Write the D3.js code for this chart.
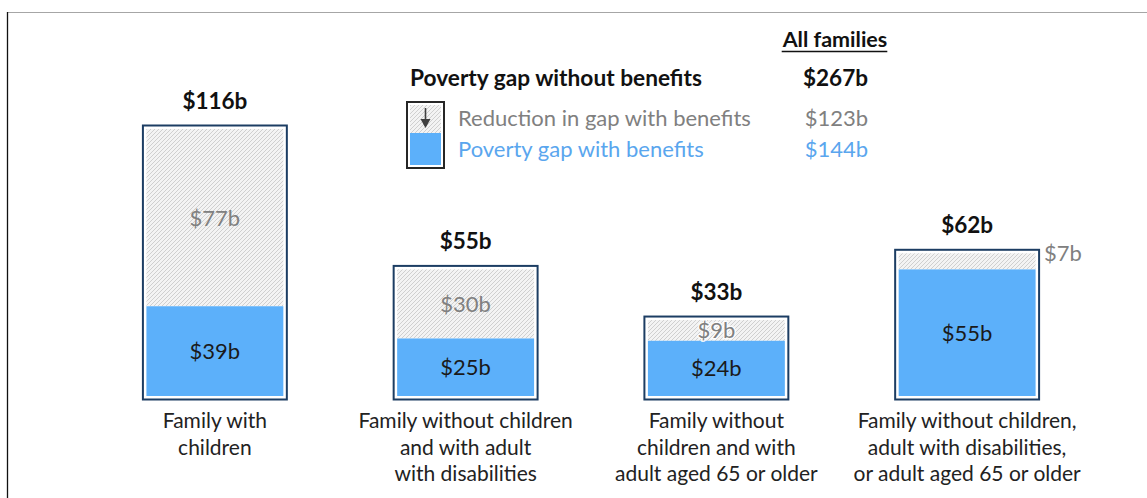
<!DOCTYPE html>
<html><head><meta charset="utf-8">
<script src="https://cdn.jsdelivr.net/npm/d3@7"></script>
<style>
body{margin:0;background:#fff}
svg{display:block}
text{font-family:Lato,"Open Sans",sans-serif}
</style>
</head><body>
<svg id="c" width="1147" height="498"></svg>
<script>
// ---- data ----
const categories = [
  ["Family with", "children"],
  ["Family without children", "and with adult", "with disabilities"],
  ["Family without", "children and with", "adult aged 65 or older"],
  ["Family without children,", "adult with disabilities,", "or adult aged 65 or older"]
];
const gapWithBenefits = [39, 25, 24, 55];
const reductionWithBenefits = [77, 30, 9, 7];
const gapWithoutBenefits = [116, 55, 33, 62];
const legendLabels = ["Poverty gap without benefits", "Reduction in gap with benefits", "Poverty gap with benefits"];
const legendTotals = [267, 123, 144];
const totalsHeader = "All families";

// ---- setup ----
const fmt = v => "$" + v + "b";
const svg = d3.select("#c");
const W = 1147, H = 498;
const BLUE = "#5cb0fa", BLUE_TXT = "#5aa6ee", GRAY_TXT = "#808080", NAVY = "#1c3d63";

const defs = svg.append("defs");
const pat = defs.append("pattern").attr("id", "hatch")
  .attr("patternUnits", "userSpaceOnUse").attr("width", 4).attr("height", 4);
pat.append("rect").attr("width", 4).attr("height", 4).attr("fill", "#f3f3f3");
pat.append("path").attr("d", "M-1,1 l2,-2 M0,4 l4,-4 M3,5 l2,-2")
  .attr("stroke", "#cbcbcb").attr("stroke-width", 0.9);

// frame
svg.append("line").attr("x1", 7).attr("x2", W).attr("y1", 12.5).attr("y2", 12.5)
  .attr("stroke", "#a6a6a6").attr("stroke-width", 1);
svg.append("line").attr("x1", 7.5).attr("x2", 7.5).attr("y1", 12).attr("y2", H)
  .attr("stroke", "#111").attr("stroke-width", 1.3);

const keys = categories.map(c => c.join(" "));
const x = d3.scaleBand().domain(keys).range([89.5, 1092.5])
  .paddingInner(0.426).paddingOuter(0.213);
const y = d3.scaleLinear().domain([0, 116]).range([396, 129]);

const data = keys.map((k, i) => ({
  k, lines: categories[i], withB: gapWithBenefits[i],
  red: reductionWithBenefits[i], total: gapWithoutBenefits[i]
}));

const inset = 3.5;
const g = svg.append("g");
const bars = g.selectAll("g.bar").data(data).join("g").attr("class", "bar");

// outer border
bars.append("rect")
  .attr("x", d => x(d.k))
  .attr("y", d => y(d.total) - inset)
  .attr("width", x.bandwidth())
  .attr("height", d => y(0) - y(d.total) + 2 * inset)
  .attr("fill", "#fff").attr("stroke", NAVY).attr("stroke-width", 2);

// hatched reduction segment
bars.append("rect")
  .attr("x", d => x(d.k) + inset)
  .attr("y", d => y(d.total))
  .attr("width", x.bandwidth() - 2 * inset)
  .attr("height", d => y(d.withB) - y(d.total))
  .attr("fill", "url(#hatch)");

// blue segment
bars.append("rect")
  .attr("x", d => x(d.k) + inset)
  .attr("y", d => y(d.withB))
  .attr("width", x.bandwidth() - 2 * inset)
  .attr("height", d => y(0) - y(d.withB))
  .attr("fill", BLUE);

// totals above bars
bars.append("text")
  .attr("x", d => x(d.k) + x.bandwidth() / 2)
  .attr("y", d => y(d.total) - 20)
  .attr("text-anchor", "middle").attr("font-weight", 700).attr("font-size", 22.5)
  .attr("fill", "#111").text(d => fmt(d.total));

// blue labels
bars.append("text")
  .attr("x", d => x(d.k) + x.bandwidth() / 2)
  .attr("y", d => (y(d.withB) + y(0)) / 2)
  .attr("dy", "0.36em")
  .attr("text-anchor", "middle").attr("font-size", 22)
  .attr("fill", "#1a1a1a").text(d => fmt(d.withB));

// reduction labels
bars.append("text")
  .attr("x", d => d.red < 8 ? x(d.k) + x.bandwidth() + 5 : x(d.k) + x.bandwidth() / 2)
  .attr("y", d => d.red < 8 ? y(d.total) : (y(d.total) + y(d.withB)) / 2)
  .attr("dy", "0.36em")
  .attr("text-anchor", d => d.red < 8 ? "start" : "middle")
  .attr("font-size", 22)
  .attr("fill", GRAY_TXT)
  .attr("stroke", d => d.red < 12 && d.red >= 8 ? "rgba(255,255,255,0.85)" : "none")
  .attr("stroke-width", 3).attr("paint-order", "stroke")
  .text(d => fmt(d.red));

// category labels
bars.append("text")
  .attr("text-anchor", "middle").attr("font-size", 21).attr("fill", "#222")
  .selectAll("tspan").data(d => d.lines.map(l => ({ l, cx: x(d.k) + x.bandwidth() / 2 })))
  .join("tspan")
  .attr("x", t => t.cx)
  .attr("y", (t, i) => 428 + i * 26.5)
  .text(t => t.l);

// ---- legend ----
const lg = svg.append("g");
const hdr = lg.append("text").attr("x", 835).attr("y", 47).attr("text-anchor", "middle")
  .attr("font-weight", 700).attr("font-size", 21.5).attr("fill", "#111")
  .text(totalsHeader);
const hb = hdr.node().getBBox();
lg.append("line").attr("x1", hb.x).attr("x2", hb.x + hb.width).attr("y1", 51.5).attr("y2", 51.5)
  .attr("stroke", "#111").attr("stroke-width", 1.5);

lg.append("text").attr("x", 410).attr("y", 86).attr("font-weight", 700)
  .attr("font-size", 22.7).attr("fill", "#111").text(legendLabels[0]);
lg.append("text").attr("x", 868).attr("y", 86).attr("text-anchor", "end")
  .attr("font-weight", 700).attr("font-size", 22.5).attr("fill", "#111").text(fmt(legendTotals[0]));

lg.append("text").attr("x", 458).attr("y", 126).attr("font-size", 22)
  .attr("fill", GRAY_TXT).text(legendLabels[1]);
lg.append("text").attr("x", 868).attr("y", 126).attr("text-anchor", "end")
  .attr("font-size", 22).attr("fill", GRAY_TXT).text(fmt(legendTotals[1]));

lg.append("text").attr("x", 458).attr("y", 157).attr("font-size", 22)
  .attr("fill", BLUE_TXT).text(legendLabels[2]);
lg.append("text").attr("x", 868).attr("y", 157).attr("text-anchor", "end")
  .attr("font-size", 22).attr("fill", BLUE_TXT).text(fmt(legendTotals[2]));

// legend icon
lg.append("rect").attr("x", 407).attr("y", 102).attr("width", 37).attr("height", 66)
  .attr("fill", "#fff").attr("stroke", "#262626").attr("stroke-width", 2);
lg.append("rect").attr("x", 410).attr("y", 105).attr("width", 31).attr("height", 28)
  .attr("fill", "url(#hatch)");
lg.append("rect").attr("x", 410).attr("y", 133).attr("width", 31).attr("height", 32)
  .attr("fill", BLUE);
lg.append("line").attr("x1", 425.5).attr("x2", 425.5).attr("y1", 108).attr("y2", 126)
  .attr("stroke", "#404040").attr("stroke-width", 1.6);
lg.append("path").attr("d", "M420.5,119 L425.5,128 L430.5,119 Z").attr("fill", "#404040");
</script>
</body></html>
